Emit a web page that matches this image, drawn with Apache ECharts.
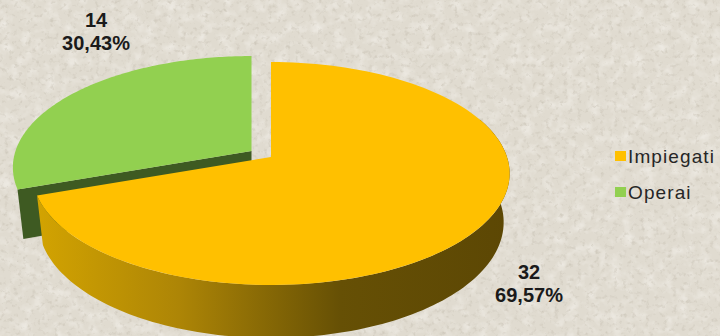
<!DOCTYPE html>
<html><head><meta charset="utf-8">
<style>
html,body{margin:0;padding:0;width:720px;height:336px;overflow:hidden;background:#e3ded3}
#bg{position:absolute;left:0;top:0}
#c{position:absolute;left:0;top:0;width:720px;height:336px}
#c svg text[style*="19px"]{letter-spacing:1.1px}
</style>
<script src="https://cdn.jsdelivr.net/npm/echarts@6/dist/echarts.min.js"></script>
</head><body>
<svg id="bg" width="720" height="336" xmlns="http://www.w3.org/2000/svg">
<defs>
<filter id="spk" x="0" y="0" width="100%" height="100%"><feTurbulence type="fractalNoise" baseFrequency="0.22" numOctaves="3" seed="11"/><feColorMatrix type="matrix" values="0 0 0 0 .60  0 0 0 0 .56  0 0 0 0 .48  2.2 0 0 0 -1.22"/><feGaussianBlur stdDeviation="0.6"/></filter>
<filter id="lgt" x="0" y="0" width="100%" height="100%"><feTurbulence type="fractalNoise" baseFrequency="0.09" numOctaves="3" seed="4"/><feColorMatrix type="matrix" values="0 0 0 0 .93  0 0 0 0 .91  0 0 0 0 .87  0 1.2 0 0 -0.52"/></filter>
</defs>
<rect width="720" height="336" fill="#e0dbd0"/>
<rect width="720" height="336" filter="url(#lgt)"/>
<rect width="720" height="336" filter="url(#spk)"/>
</svg>
<div id="c"></div>
<script>
const categories = ['Impiegati', 'Operai'];
const impiegatiValues = [32];
const operaiValues = [14];

const total = impiegatiValues[0] + operaiValues[0];
const splitAngle = impiegatiValues[0] / total * 2 * Math.PI;

// Perspective disc projection
const APEX = [271, 157], SCALE_X = 236, SCALE_Y = 109, K = 0.148;
const DEPTH = 48, DEPTH_GROW = 5, DEPTH_SHRINK = 0.975, EXPLODE = [-19.5, -6];

function project(theta, r, origin, down) {
  const u = Math.sin(theta) * r, v = Math.cos(theta) * r, w = 1 + K * v;
  const shrink = down ? DEPTH_SHRINK : 1;
  return [origin[0] + SCALE_X * u / w * shrink,
          origin[1] - SCALE_Y * v / w + (down ? DEPTH - DEPTH_GROW * v : 0)];
}
function arc(a0, a1, origin, down) {
  const n = 120, pts = [];
  for (let i = 0; i <= n; i++) pts.push(project(a0 + (a1 - a0) * i / n, 1, origin, down));
  return pts;
}
const fmt = (v) => v + '\n' + (v / total * 100).toFixed(2).replace('.', ',') + '%';
const labelStyle = (x, y, v) => ({
  type: 'text', z2: 20,
  style: { x, y, text: fmt(v), fill: '#1a1a1a', align: 'center', verticalAlign: 'middle',
    font: 'bold 20px "Liberation Sans", Arial, sans-serif', lineHeight: 23 }
});

function renderImpiegati(params, api) {
  const v = api.value(0);
  const end = v / total * 2 * Math.PI;
  const topArc = arc(0, end, APEX, false);
  const sideTop = arc(1.2, end, APEX, false);
  const sideBot = arc(1.2, end, APEX, true).reverse();
  return { type: 'group', children: [
    { type: 'polygon', z2: 5, shape: { points: sideTop.concat(sideBot) },
      style: { fill: new echarts.graphic.LinearGradient(38, 0, 510, 0, [
        { offset: 0, color: '#d2a301' }, { offset: 0.3, color: '#ad8506' },
        { offset: 0.64, color: '#665005' }, { offset: 1, color: '#5c4704' }], true) } },
    { type: 'polygon', z2: 6, shape: { points: [APEX].concat(topArc) }, style: { fill: '#FFC000' } },
    labelStyle(529, 283, v)
  ]};
}
function renderOperai(params, api) {
  const v = api.value(0);
  const origin = [APEX[0] + EXPLODE[0], APEX[1] + EXPLODE[1]];
  const start = splitAngle, end = start + v / total * 2 * Math.PI;
  const p1 = project(start, 1, origin, false), p2 = project(start, 1, origin, true);
  const oTop = origin, oBot = [origin[0], origin[1] + DEPTH];
  return { type: 'group', children: [
    { type: 'polygon', z2: 1, shape: { points: [oTop, p1, p2, oBot] }, style: { fill: '#3e5a22' } },
    { type: 'polygon', z2: 2, shape: { points: [origin].concat(arc(start, end, origin, false)) }, style: { fill: '#92D050' } },
    labelStyle(96, 31, v)
  ]};
}

const chart = echarts.init(document.getElementById('c'), null, { renderer: 'svg' });
chart.setOption({
  backgroundColor: 'transparent',
  animation: false,
  legend: {
    orient: 'vertical', left: 615, top: 146.5, padding: 0, itemWidth: 11, itemHeight: 10, itemGap: 17,
    icon: 'rect', data: categories, selectedMode: false,
    textStyle: { color: '#262626', fontSize: 19, fontFamily: '"Liberation Sans", Arial, sans-serif', padding: [0, 0, 0, -3] }
  },
  series: [
    { type: 'custom', name: categories[1], coordinateSystem: 'none', z: 1, data: operaiValues,
      itemStyle: { color: '#92D050' }, renderItem: renderOperai },
    { type: 'custom', name: categories[0], coordinateSystem: 'none', z: 2, data: impiegatiValues,
      itemStyle: { color: '#FFC000' }, renderItem: renderImpiegati }
  ]
});
</script>
</body></html>
